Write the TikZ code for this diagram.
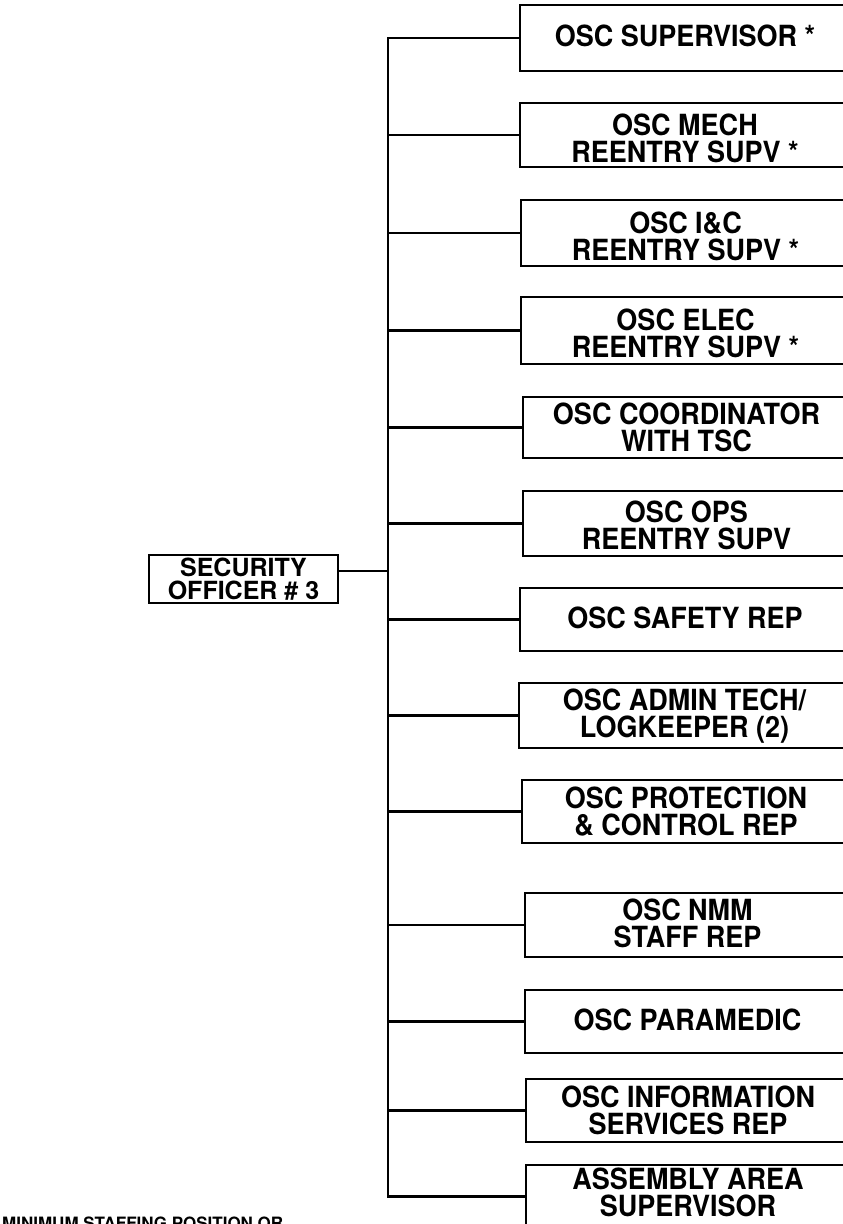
\documentclass[tikz,border=0pt]{standalone}
\usepackage{fontspec}
\setmainfont{TeX Gyre Heros}
\usetikzlibrary{calc}
\tikzset{
  conn/.style={line width=2.8pt, line join=miter},
  posbox/.style={draw, line width=2.8pt, inner sep=0pt},
  postext/.style={align=center, inner sep=0pt, yscale=1.08, transform shape,
    font=\bfseries\fontsize{27}{25}\selectfont},
  offbox/.style={draw, line width=2.8pt, align=center, inner sep=0pt,
    font=\bfseries\fontsize{25}{23}\selectfont},
  note/.style={inner sep=0pt, anchor=base west, font=\bfseries\fontsize{17}{17}\selectfont},
}
% name, left, top, bottom, text-shift, text
\newcommand\mkbox[6]{%
  \node[posbox, minimum width={850pt-#2pt}, minimum height={#4pt-#3pt}]
    (#1) at ({(850+#2)/2},{(#3+#4)/2}) {};
  \node[postext] (#1t) at ($(#1.center)+(0,#5)$) {#6};}
\begin{document}
\begin{tikzpicture}[x=1pt, y=-1pt]
  \useasboundingbox (0,0) rectangle (843,1224);
  \clip (0,0) rectangle (843,1224);
  \fill[white] (0,0) rectangle (843,1224);

  \mkbox{b1}{520}{5}{71}{-2}{OSC SUPERVISOR *}
  \mkbox{b2}{520}{103}{167}{3}{OSC MECH\\REENTRY SUPV *}
  \mkbox{b3}{521}{200}{266}{3}{OSC I\&C\\REENTRY SUPV *}
  \mkbox{b4}{521}{297}{364}{3}{OSC ELEC\\REENTRY SUPV *}
  \mkbox{b5}{523}{397}{458}{0}{OSC COORDINATOR\\WITH TSC}
  \mkbox{b6}{523}{491}{556}{2}{OSC OPS\\REENTRY SUPV}
  \mkbox{b7}{520}{588}{651}{-2}{OSC SAFETY REP}
  \mkbox{b8}{519}{683}{748}{1}{OSC ADMIN TECH/\\LOGKEEPER (2)}
  \mkbox{b9}{522}{780}{843}{0}{OSC PROTECTION\\\& CONTROL REP}
  \mkbox{b10}{525}{893}{957}{-2}{OSC NMM\\STAFF REP}
  \mkbox{b11}{525}{990}{1053}{-2}{OSC PARAMEDIC}
  \mkbox{b12}{526}{1079}{1142}{0}{OSC INFORMATION\\SERVICES REP}
  \mkbox{b13}{526}{1165}{1228}{-4}{ASSEMBLY AREA\\SUPERVISOR}

  \node[offbox, minimum width=189pt, minimum height=48pt] (off) at (243.5,579)
    {SECURITY\\OFFICER \# 3};

  \coordinate (T) at (388,0);
  \coordinate (offout) at ($(off.east)+(0,-8)$);

  \draw[conn] (b1.west) -- (b1.west -| T) -- (b13.west -| T) -- (b13.west);
  \foreach \b in {b2,b3,b4,b5,b6,b7,b8,b9,b10,b11,b12}
    \draw[conn] (\b.west -| T) -- (\b.west);
  \draw[conn] (offout) -- (offout -| T);

  \node[note] (fn) at (2,1229) {MINIMUM STAFFING POSITION OR};
\end{tikzpicture}
\end{document}
